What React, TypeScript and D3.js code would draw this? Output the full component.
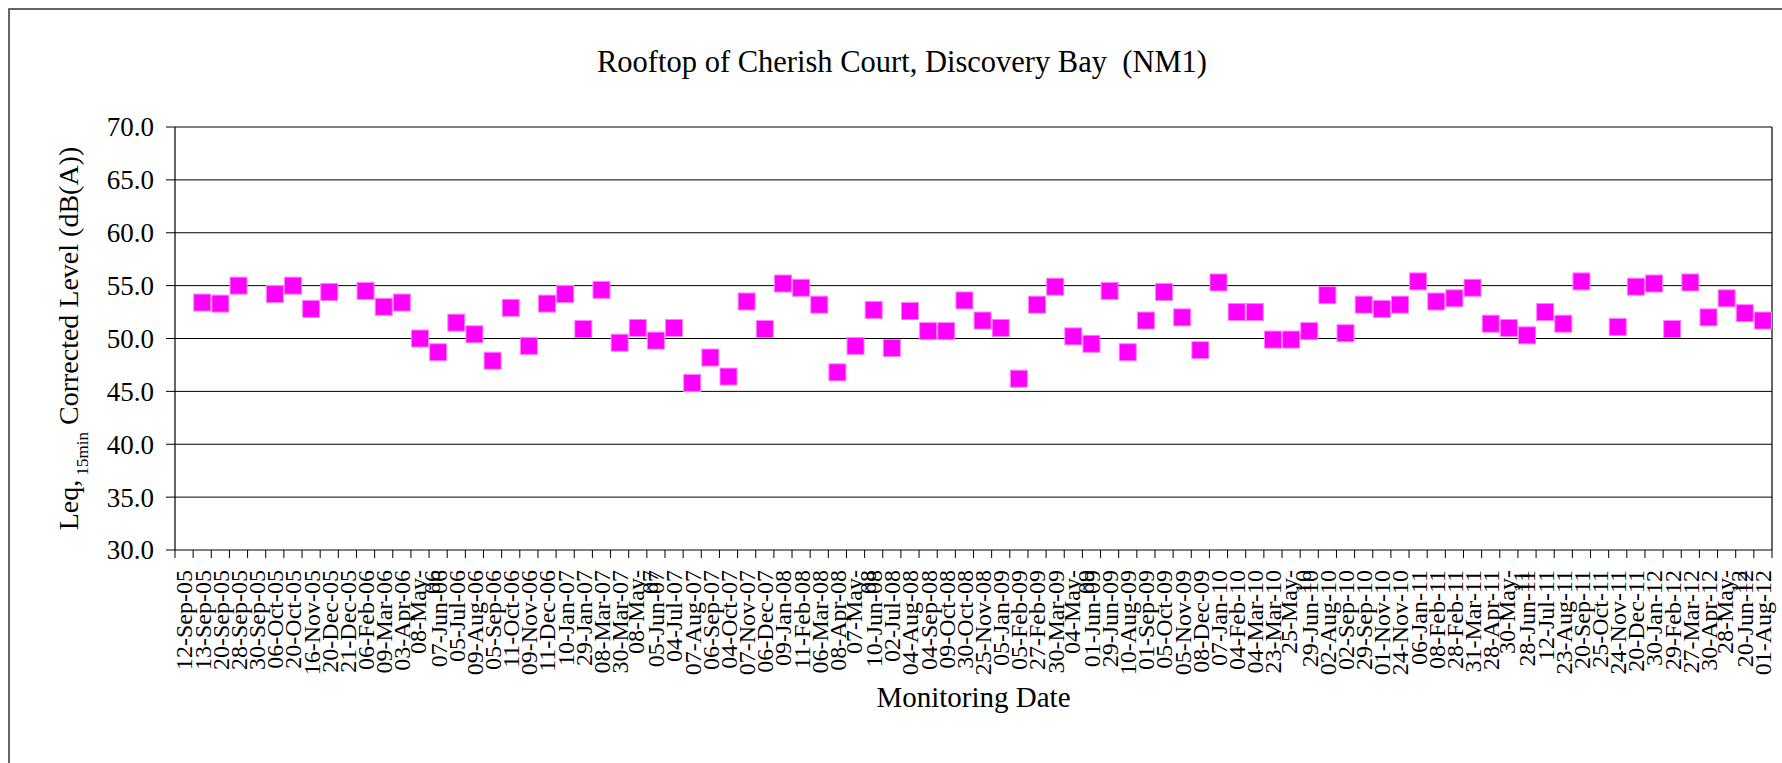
import React from "react";
import * as d3 from "d3";

const dates = [
  "12-Sep-05", "13-Sep-05", "20-Sep-05", "28-Sep-05", "30-Sep-05", "06-Oct-05", "20-Oct-05", "16-Nov-05",
  "20-Dec-05", "21-Dec-05", "06-Feb-06", "09-Mar-06", "03-Apr-06", "08-May-06", "07-Jun-06", "05-Jul-06",
  "09-Aug-06", "05-Sep-06", "11-Oct-06", "09-Nov-06", "11-Dec-06", "10-Jan-07", "29-Jan-07", "08-Mar-07",
  "30-Mar-07", "08-May-07", "05-Jun-07", "04-Jul-07", "07-Aug-07", "06-Sep-07", "04-Oct-07", "07-Nov-07",
  "06-Dec-07", "09-Jan-08", "11-Feb-08", "06-Mar-08", "08-Apr-08", "07-May-08", "10-Jun-08", "02-Jul-08",
  "04-Aug-08", "04-Sep-08", "09-Oct-08", "30-Oct-08", "25-Nov-08", "05-Jan-09", "05-Feb-09", "27-Feb-09",
  "30-Mar-09", "04-May-09", "01-Jun-09", "29-Jun-09", "10-Aug-09", "01-Sep-09", "05-Oct-09", "05-Nov-09",
  "08-Dec-09", "07-Jan-10", "04-Feb-10", "04-Mar-10", "23-Mar-10", "25-May-10", "29-Jun-10", "02-Aug-10",
  "02-Sep-10", "29-Sep-10", "01-Nov-10", "24-Nov-10", "06-Jan-11", "08-Feb-11", "28-Feb-11", "31-Mar-11",
  "28-Apr-11", "30-May-11", "28-Jun-11", "12-Jul-11", "23-Aug-11", "20-Sep-11", "25-Oct-11", "24-Nov-11",
  "20-Dec-11", "30-Jan-12", "29-Feb-12", "27-Mar-12", "30-Apr-12", "28-May-12", "20-Jun-12", "01-Aug-12",
];

// Leq 15min corrected level, dB(A); null = no reading drawn
const levels = [
  null, 53.4, 53.3, 55.0, null, 54.2, 55.0, 52.8,
  54.4, null, 54.5, 53.0, 53.4, 50.0, 48.7, 51.5,
  50.4, 47.9, 52.9, 49.3, 53.3, 54.2, 50.9, 54.6,
  49.6, 51.0, 49.8, 51.0, 45.8, 48.2, 46.4, 53.5,
  50.9, 55.2, 54.8, 53.2, 46.8, 49.3, 52.7, 49.1,
  52.6, 50.7, 50.7, 53.6, 51.7, 51.0, 46.2, 53.2,
  54.9, 50.2, 49.5, 54.5, 48.7, 51.7, 54.4, 52.0,
  48.9, 55.3, 52.5, 52.5, 49.9, 49.9, 50.7, 54.1,
  50.5, 53.2, 52.8, 53.2, 55.4, 53.5, 53.8, 54.8,
  51.4, 51.0, 50.3, 52.5, 51.4, 55.4, null, 51.1,
  54.9, 55.2, 50.9, 55.3, 52.0, 53.8, 52.4, 51.7,
];

const yTicks = [30, 35, 40, 45, 50, 55, 60, 65, 70];

function App() {
  const width = 1782;
  const height = 763;
  const plot = { left: 175, right: 1772, top: 127, bottom: 550 };
  const font = "'Liberation Serif', 'Times New Roman', serif";

  const x = d3.scaleBand().domain(dates).range([plot.left, plot.right]);
  const y = d3.scaleLinear().domain([30, 70]).range([plot.bottom, plot.top]);
  const size = 17;

  const points = dates
    .map((d, i) => ({ date: d, value: levels[i] }))
    .filter(p => p.value !== null);

  return (
    <svg width={width} height={height} style={{ position: "absolute", left: 0, top: 0, background: "#fff" }}>
      <rect x={9} y={9} width={1800} height={800} fill="#fff" stroke="#333" strokeWidth={1.5} />

      <text x={902} y={72} textAnchor="middle" fontFamily={font} fontSize={30.5} fill="#000">
        Rooftop of Cherish Court, Discovery Bay{"\u00a0\u00a0"}(NM1)
      </text>

      {yTicks.map(t => (
        <g key={t}>
          <line x1={plot.left - 9} x2={plot.right} y1={y(t)} y2={y(t)} stroke="#000" strokeWidth={1} />
          <text x={plot.left - 21} y={y(t)} dy="0.35em" textAnchor="end" fontFamily={font} fontSize={27} fill="#000">
            {d3.format(".1f")(t)}
          </text>
        </g>
      ))}

      <line x1={plot.left} x2={plot.left} y1={plot.top} y2={plot.bottom} stroke="#000" strokeWidth={1.2} />
      <line x1={plot.right} x2={plot.right} y1={plot.top} y2={plot.bottom} stroke="#000" strokeWidth={1.2} />

      {dates.map((d, i) => (
        <line key={"t" + i} x1={x(d)} x2={x(d)} y1={plot.bottom} y2={plot.bottom + 8} stroke="#000" strokeWidth={1} />
      ))}
      <line x1={plot.right} x2={plot.right} y1={plot.bottom} y2={plot.bottom + 8} stroke="#000" strokeWidth={1} />

      {dates.map(d => {
        const cx = x(d) + x.bandwidth() / 2;
        const isMay = d.indexOf("May") >= 0;
        const parts = isMay ? [d.slice(0, 7), d.slice(7)] : [d];
        return (
          <g key={d} transform={`translate(${cx},${plot.bottom + 20}) rotate(-90)`}>
            {parts.map((p, k) => (
              <text key={k} x={0} y={isMay ? (k === 0 ? -2 : 12) : 0} dy="0.35em" textAnchor="end"
                fontFamily={font} fontSize={24} fill="#000">{p}</text>
            ))}
          </g>
        );
      })}

      {points.map(p => (
        <rect key={p.date} x={x(p.date) + x.bandwidth() / 2 - size / 2} y={y(p.value) - size / 2}
          width={size} height={size} fill="#ff00ff" stroke="#ff80ff" strokeWidth={1} />
      ))}

      <text transform={`translate(78,${(plot.top + plot.bottom) / 2}) rotate(-90)`} textAnchor="middle"
        fontFamily={font} fontSize={28} fill="#000">
        Leq,<tspan fontSize={17} baselineShift="sub">{" 15min"}</tspan> Corrected Level (dB(A))
      </text>

      <text x={(plot.left + plot.right) / 2} y={707} textAnchor="middle" fontFamily={font} fontSize={29} fill="#000">
        Monitoring Date
      </text>
    </svg>
  );
}

export default App;
